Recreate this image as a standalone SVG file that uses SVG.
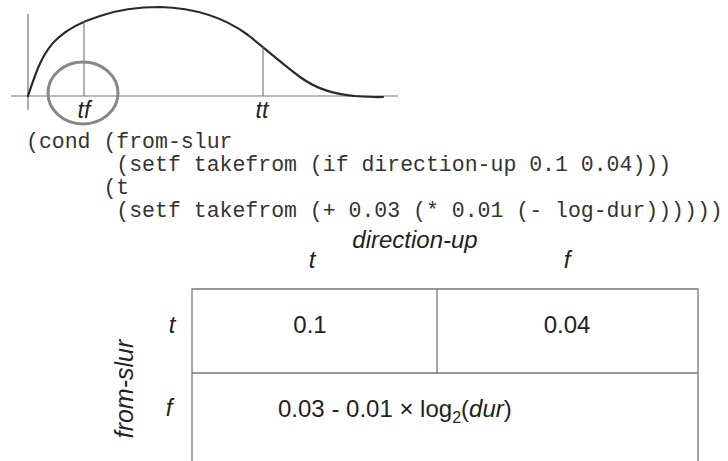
<svg xmlns="http://www.w3.org/2000/svg" width="728" height="461" viewBox="0 0 728 461">
  <style>
    .axis { stroke: #777; stroke-width: 1.2; fill: none; }
    .mark { stroke: #666; stroke-width: 1; fill: none; }
    .curve { stroke: #2a2a2a; stroke-width: 2.2; fill: none; stroke-linecap: round; }
    .ring { stroke: #888; stroke-width: 3; fill: none; }
    .lbl { font-family: "Liberation Sans", Arial, sans-serif; font-style: italic; fill: #222; }
    .code { font-family: "Liberation Mono", "Courier New", monospace; font-size: 21.5px; fill: #333; white-space: pre; }
    .cell { font-family: "Liberation Sans", Arial, sans-serif; font-size: 24px; fill: #222; }
    .grid { stroke: #777; stroke-width: 1.3; fill: none; }
  </style>

  <!-- envelope plot -->
  <g id="plot">
    <line class="axis" x1="28" y1="14" x2="28" y2="110"/>
    <line class="axis" x1="11" y1="96" x2="398" y2="96"/>
    <path class="curve" d="M28,96 C35,75 42,52 58,38 C70,27 84,21 100,16 C120,9 140,7 160,7 C195,8 225,18 248,35 C262,46 280,62 300,77 C318,90 335,94 355,96 C368,97 376,97.5 383,97"/>
    <line class="mark" x1="84" y1="21" x2="84" y2="96"/>
    <line class="mark" x1="263" y1="47" x2="263" y2="96"/>
    <ellipse class="ring" cx="83" cy="93" rx="35" ry="31"/>
    <text class="lbl" x="84" y="118" font-size="23" text-anchor="middle">tf</text>
    <text class="lbl" x="262" y="118" font-size="23" text-anchor="middle">tt</text>
  </g>

  <!-- lisp source -->
  <g id="code">
    <text class="code" x="26" y="148">(cond (from-slur</text>
    <text class="code" x="26" y="171">       (setf takefrom (if direction-up 0.1 0.04)))</text>
    <text class="code" x="26" y="194">      (t</text>
    <text class="code" x="26" y="217">       (setf takefrom (+ 0.03 (* 0.01 (- log-dur))))))</text>
  </g>

  <!-- decision table -->
  <g id="table">
    <text class="lbl" x="415" y="248" font-size="24" text-anchor="middle">direction-up</text>
    <text class="lbl" x="312" y="268" font-size="24" text-anchor="middle">t</text>
    <text class="lbl" x="567" y="268" font-size="24" text-anchor="middle">f</text>
    <text class="lbl" x="133" y="389" font-size="25" text-anchor="middle" transform="rotate(-90 133 389)">from-slur</text>
    <text class="lbl" x="172" y="333" font-size="24" text-anchor="middle">t</text>
    <text class="lbl" x="169" y="416" font-size="24" text-anchor="middle">f</text>

    <path class="grid" d="M192,461 V289 H698 V461 M192,373 H698 M437,289 V373"/>

    <text class="cell" x="310" y="333" text-anchor="middle">0.1</text>
    <text class="cell" x="567" y="333" text-anchor="middle">0.04</text>
    <text class="cell" x="278" y="417">0.03 - 0.01 × log<tspan font-size="16" dy="6">2</tspan><tspan dy="-6">(</tspan><tspan font-style="italic">dur</tspan>)</text>
  </g>
</svg>
